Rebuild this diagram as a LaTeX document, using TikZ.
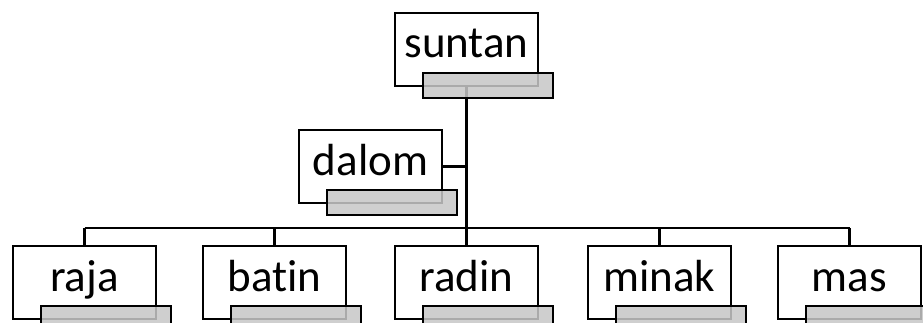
\documentclass[tikz,border=0pt]{standalone}
\usepackage{fontspec}
\setmainfont{Carlito}[Ligatures=NoCommon]
\begin{document}
\begin{tikzpicture}[x=1pt,y=-1pt,
  box/.style={draw, line width=2pt, fill=white, minimum width=143pt,
    minimum height=73pt, inner sep=0pt, anchor=north west},
  tab/.style={draw, line width=2pt, fill=black!22, fill opacity=0.86,
    minimum width=130pt, minimum height=25pt, inner sep=0pt, anchor=north east},
  lbl/.style={font=\fontsize{45}{54}\selectfont, anchor=base, inner sep=0pt},
  link/.style={line width=2.2pt}]
\clip (0,0) rectangle (923,322);

% member boxes
\node[box] (st) at (394,12) {};
\node[box] (dl) at (298,129) {};
\node[box] (ra) at (12,245) {};
\node[box] (ba) at (202,245) {};
\node[box] (rd) at (394,245) {};
\node[box] (mi) at (587,245) {};
\node[box] (ms) at (777,245) {};

% level bar joining the lower row
\coordinate (bar) at (465.5,228);

% connectors
\draw[link] (st.south) -- (st.south |- bar);
\draw[link] (dl.east) -- (dl.east -| st.south);
\draw[link] (ra.north |- bar) -- (ms.north |- bar);
\foreach \n in {ra,ba,rd,mi,ms}
  \draw[link] (\n.north) -- (\n.north |- bar);

% names
\node[lbl] (stl) at ([shift={(0,45)}]st.north) {suntan};
\node[lbl] (dll) at ([shift={(0,46)}]dl.north) {dalom};
\node[lbl] (ral) at ([shift={(0,46)}]ra.north) {raja};
\node[lbl] (bal) at ([shift={(0,46)}]ba.north) {batin};
\node[lbl] (rdl) at ([shift={(0,46)}]rd.north) {radin};
\node[lbl] (mil) at ([shift={(0,46)}]mi.north) {minak};
\node[lbl] (msl) at ([shift={(0,46)}]ms.north) {mas};

% grey title tabs
\foreach \n in {st,dl,ra,ba,rd,mi,ms}
  \node[tab] (\n g) at ([shift={(15,-15)}]\n.south east) {};
\end{tikzpicture}
\end{document}
